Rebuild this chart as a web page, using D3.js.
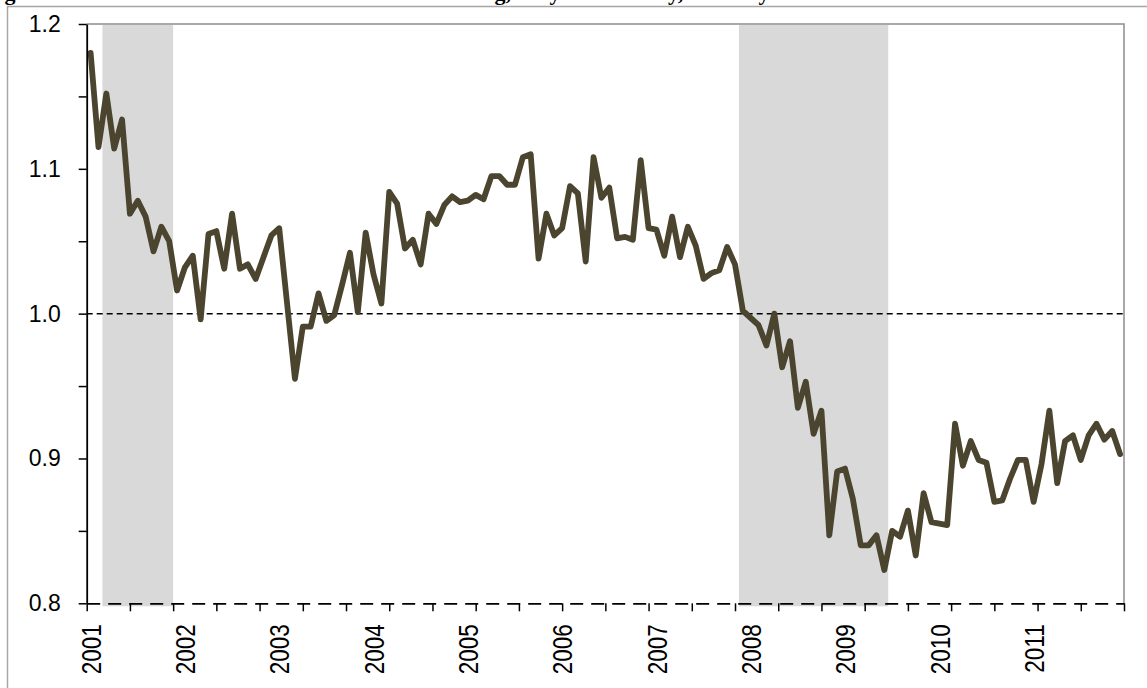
<!DOCTYPE html>
<html>
<head>
<meta charset="utf-8">
<script src="https://cdn.jsdelivr.net/npm/d3@7"></script>
<style>
    body { margin: 0; background: #fff; }
    svg { display: block; }
</style>
</head>
<body>
<div class="chart"></div>
<script>
// monthly index, Jan 2001 .. Dec 2011
const startYear = 2001;
const years = [2001, 2002, 2003, 2004, 2005, 2006, 2007, 2008, 2009, 2010, 2011];
const values = [
    1.180, 1.115, 1.152, 1.114, 1.134, 1.069, 1.078, 1.067, 1.043, 1.060, 1.050, 1.016,
    1.032, 1.040, 0.996, 1.055, 1.057, 1.031, 1.069, 1.031, 1.034, 1.024, 1.039, 1.054,
    1.059, 1.007, 0.955, 0.991, 0.991, 1.014, 0.995, 0.999, 1.020, 1.042, 1.001, 1.056,
    1.027, 1.007, 1.084, 1.076, 1.045, 1.051, 1.034, 1.069, 1.062, 1.075, 1.081, 1.077,
    1.078, 1.082, 1.079, 1.095, 1.095, 1.089, 1.089, 1.108, 1.110, 1.038, 1.069, 1.054,
    1.059, 1.088, 1.083, 1.036, 1.108, 1.080, 1.087, 1.052, 1.053, 1.051, 1.106, 1.059,
    1.058, 1.040, 1.067, 1.039, 1.060, 1.047, 1.024, 1.028, 1.030, 1.046, 1.034, 1.002,
    0.997, 0.992, 0.978, 1.000, 0.963, 0.981, 0.935, 0.953, 0.917, 0.933, 0.847, 0.891,
    0.893, 0.872, 0.840, 0.840, 0.847, 0.823, 0.850, 0.846, 0.864, 0.833, 0.876, 0.856,
    0.855, 0.854, 0.924, 0.895, 0.912, 0.899, 0.897, 0.870, 0.871, 0.886, 0.899, 0.899,
    0.870, 0.896, 0.933, 0.883, 0.912, 0.916, 0.899, 0.916, 0.924, 0.913, 0.919, 0.903
];
// shaded recession months (first, last)
const recessions = [["2001-03", "2001-11"], ["2007-12", "2009-06"]];
const yTicks = [0.8, 0.85, 0.9, 0.95, 1.0, 1.05, 1.1, 1.15, 1.2];
const yLabels = [0.8, 0.9, 1.0, 1.1, 1.2];
const refValue = 1.0;
const title = "Figure 4: Relative Unit Labour Costs in Manufacturing, Italy to Germany, Monthly";

function monthIndex(s) {
    let parts = s.split("-");
    return (+parts[0] - startYear) * 12 + (+parts[1] - 1);
}

let svg = d3.select(".chart").append("svg")
    .attr("width", 1147).attr("height", 688);

let margin = {top: 24, right: 23, bottom: 84.7, left: 86.7},
    width = +svg.attr("width") - margin.left - margin.right,
    height = +svg.attr("height") - margin.top - margin.bottom;

// title sits above the visible area, only its descenders show
svg.append("text")
    .attr("x", -15).attr("y", 0)
    .attr("font-family", "Liberation Serif").attr("font-weight", "bold")
    .attr("font-size", "22px")
    .text(title);

// outer chart border
svg.append("rect")
    .attr("x", 7.5).attr("y", 6.5)
    .attr("width", 1160).attr("height", 700)
    .attr("fill", "#fff").attr("stroke", "#a6a6a6").attr("stroke-width", 1.5);

let g = svg.append("g").attr("transform", "translate(" + margin.left + "," + margin.top + ")");

let x = d3.scaleLinear().domain([0, values.length]).range([0, width]);
let y = d3.scaleLinear().domain([0.8, 1.2]).range([height, 0]);

// recession shading, one band per month
g.append("g")
    .selectAll("rect")
    .data(recessions)
    .enter().append("rect")
    .attr("x", function (d) { return x(monthIndex(d[0])); })
    .attr("width", function (d) { return x(monthIndex(d[1]) + 1) - x(monthIndex(d[0])); })
    .attr("y", y(1.2) + 1)
    .attr("height", y(0.8) - y(1.2) + 2)
    .attr("fill", "#d9d9d9");

// parity line
g.append("line")
    .attr("x1", 0).attr("x2", width)
    .attr("y1", y(refValue)).attr("y2", y(refValue))
    .attr("stroke", "#000").attr("stroke-width", 1.5)
    .attr("stroke-dasharray", "6,4");

// plot area border (top and right)
g.append("path")
    .attr("d", "M0," + y(1.2) + "H" + width + "V" + y(0.8))
    .attr("fill", "none").attr("stroke", "#8c8c8c").attr("stroke-width", 1.5);

let line = d3.line()
    .x(function (d, i) { return x(i + 0.5); })
    .y(function (d) { return y(d); });

g.append("path")
    .datum(values)
    .attr("d", line)
    .attr("fill", "none")
    .attr("stroke", "#4b442f")
    .attr("stroke-width", 5.8)
    .attr("stroke-linejoin", "round")
    .attr("stroke-linecap", "round");

// y axis
let yAxis = g.append("g")
    .call(d3.axisLeft(y).tickValues(yTicks).tickSize(8).tickSizeOuter(0).tickPadding(18)
        .tickFormat(function (d) {
            return yLabels.some(function (v) { return Math.abs(v - d) < 1e-9; }) ? d3.format(".1f")(d) : "";
        }));
yAxis.select(".domain").attr("stroke-width", 1.8);
yAxis.selectAll(".tick line").attr("stroke-width", 1.5);
yAxis.selectAll(".tick text")
    .attr("font-family", "Liberation Sans").attr("font-size", "23px").attr("fill", "#000");

// x axis: ticks every half label interval, dashed base line
let xAxis = g.append("g")
    .attr("transform", "translate(0," + height + ")")
    .call(d3.axisBottom(x).tickValues(d3.range(0, values.length + 0.01, values.length / 24))
        .tickSize(8).tickSizeOuter(0).tickFormat(""));
xAxis.select(".domain").attr("stroke-width", 1.8).attr("stroke-dasharray", "13,8");
xAxis.selectAll(".tick line").attr("stroke-width", 1.5);

// year labels under each January
g.append("g")
    .selectAll("text")
    .data(years)
    .enter().append("text")
    .attr("transform", function (d) {
        return "translate(" + (x((d - startYear) * 12 + 0.5) + 1) + "," + (height + 21) + ") scale(1.2,1) rotate(-90)";
    })
    .attr("text-anchor", "end")
    .attr("dominant-baseline", "central")
    .attr("font-family", "Liberation Sans").attr("font-size", "22.5px")
    .attr("fill", "#000")
    .text(function (d) { return d; });
</script>
</body>
</html>
